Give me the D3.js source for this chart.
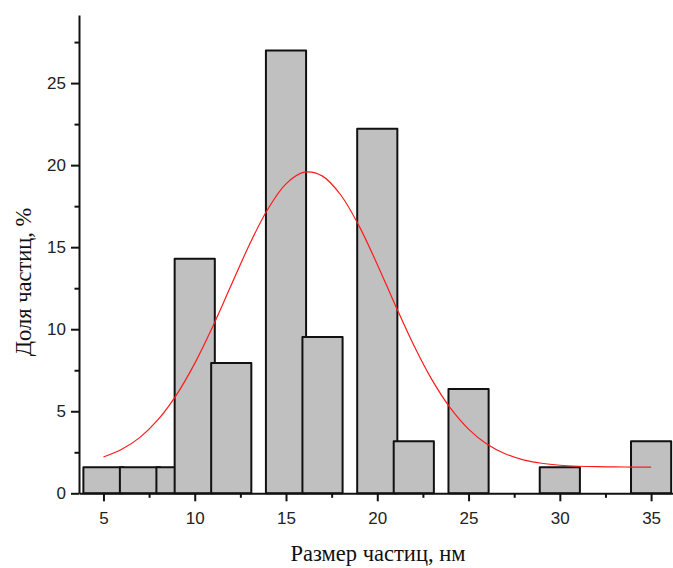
<!DOCTYPE html>
<html>
<head>
<meta charset="utf-8">
<script src="https://cdn.jsdelivr.net/npm/d3@7"></script>
<style>
  body { margin: 0; background: #fff; }
  svg { display: block; }
  .tick text { font-family: "Liberation Sans", Arial, sans-serif; font-size: 17px; fill: #222; }
  .axis-title { font-family: "Liberation Serif", "Times New Roman", serif; font-size: 22.5px; fill: #111; }
</style>
</head>
<body>
<svg id="chart" width="673" height="568"></svg>
<script>
// particle size bins (nm) and share of particles (%)
const sizes = [5, 7, 9, 10, 12, 15, 17, 20, 22, 25, 30, 35];
const shares = [1.59, 1.59, 1.59, 14.29, 7.94, 26.98, 9.52, 22.22, 3.17, 6.35, 1.59, 3.17];
const binWidth = 2.2;

// red fit curve
const fitX = [5, 6, 7, 8, 9, 10, 11, 12, 13, 14, 15, 16, 17, 18, 19, 20, 21, 22, 23, 24, 25, 26, 27, 28, 29, 30, 31, 32, 33, 34, 35];
const fitY = [2.21, 2.68, 3.41, 4.5, 6.0, 7.92, 10.2, 12.69, 15.16, 17.31, 18.86, 19.57, 19.33, 18.18, 16.3, 13.95, 11.43, 9.02, 6.91, 5.2, 3.91, 3.0, 2.41, 2.04, 1.83, 1.71, 1.65, 1.62, 1.61, 1.6, 1.6];

const xTicks = [5, 10, 15, 20, 25, 30, 35];
const xMinor = [7.5, 12.5, 17.5, 22.5, 27.5, 32.5];
const yTicks = [0, 5, 10, 15, 20, 25];
const yMinor = [2.5, 7.5, 12.5, 17.5, 22.5, 27.5];

const svg = d3.select('#chart');

const x = d3.scaleLinear().domain([3.66, 36.2]).range([79, 673]);
const y = d3.scaleLinear().domain([0, 29.15]).range([493.3, 15]);

// bars, drawn in order so later ones overlap earlier ones
svg.append('g')
    .selectAll('rect')
    .data(sizes)
    .join('rect')
    .attr('x', d => x(d - binWidth / 2))
    .attr('y', (d, i) => y(shares[i]))
    .attr('width', d => x(d + binWidth / 2) - x(d - binWidth / 2))
    .attr('height', (d, i) => y(0) - y(shares[i]))
    .attr('fill', '#c0c0c0')
    .attr('stroke', '#111')
    .attr('stroke-width', 2)
    .attr('stroke-linejoin', 'round');

// fit curve
const line = d3.line()
    .x(d => x(d[0]))
    .y(d => y(d[1]))
    .curve(d3.curveCatmullRom);

svg.append('path')
    .datum(d3.zip(fitX, fitY))
    .attr('d', line)
    .attr('fill', 'none')
    .attr('stroke', '#ff1a1a')
    .attr('stroke-width', 1.2);

// axes
svg.append('g')
    .attr('transform', `translate(0,${y(0)})`)
    .call(d3.axisBottom(x).tickValues(xTicks).tickSize(8).tickPadding(11).tickSizeOuter(0));
svg.append('g')
    .attr('transform', `translate(0,${y(0)})`)
    .call(d3.axisBottom(x).tickValues(xMinor).tickSize(4.5).tickFormat('').tickSizeOuter(0))
    .select('.domain').remove();

svg.append('g')
    .attr('transform', `translate(${x.range()[0]},0)`)
    .call(d3.axisLeft(y).tickValues(yTicks).tickSize(8).tickPadding(5).tickSizeOuter(0));
svg.append('g')
    .attr('transform', `translate(${x.range()[0]},0)`)
    .call(d3.axisLeft(y).tickValues(yMinor).tickSize(4.5).tickFormat('').tickSizeOuter(0))
    .select('.domain').remove();

svg.selectAll('.domain').attr('stroke', '#111').attr('stroke-width', 2);
svg.selectAll('.tick line').attr('stroke', '#111').attr('stroke-width', 2);

// axis titles
svg.append('text')
    .attr('class', 'axis-title')
    .attr('x', 378)
    .attr('y', 561)
    .attr('text-anchor', 'middle')
    .text('Размер частиц, нм');

svg.append('text')
    .attr('class', 'axis-title')
    .attr('transform', 'translate(31,282) rotate(-90)')
    .attr('text-anchor', 'middle')
    .text('Доля частиц, %');
</script>
</body>
</html>
